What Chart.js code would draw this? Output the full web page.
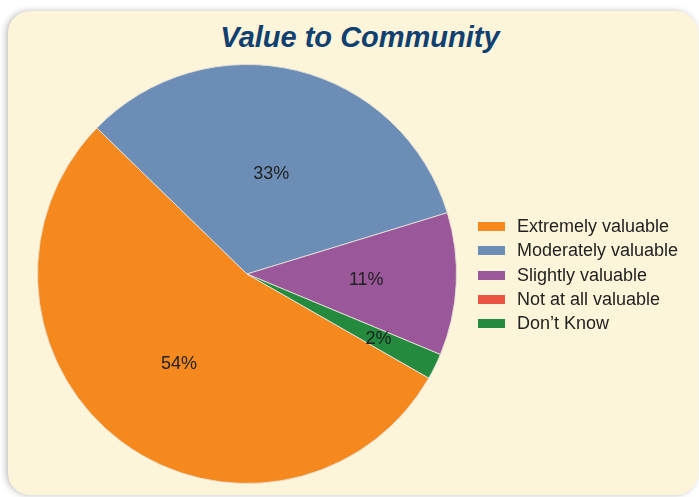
<!DOCTYPE html>
<html>
<head>
<meta charset="utf-8">
<script src="https://cdn.jsdelivr.net/npm/chart.js@4"></script>
<style>
    html, body { margin: 0; padding: 0; background: #ffffff; }
    #wrap { position: relative; width: 699px; height: 497px; overflow: hidden; }
    #card {
        position: absolute; left: 8px; top: 11px; width: 690px; height: 484px;
        background: #fdf5da; border-radius: 22px;
        box-shadow: -2px 0 6px rgba(0,0,0,0.25);
    }
    #title {
        position: absolute; left: 0; width: 720px; top: 21px; text-align: center;
        font: italic bold 29px "Liberation Sans", Arial, sans-serif; color: #0f406f;
    }
    #legend {
        position: absolute; left: 478px; top: 214px;
        font: 18px "Liberation Sans", Arial, sans-serif; color: #222;
    }
    #legend div { height: 24.3px; line-height: 24px; white-space: nowrap; }
    #legend span.box {
        display: inline-block; width: 27px; height: 9px; margin-right: 12px; vertical-align: 1px;
    }
    canvas { position: absolute; left: 0; top: 0; }
</style>
</head>
<body>
<div id="wrap">
    <div id="card"></div>
    <div id="title">Value to Community</div>
    <canvas id="pie" width="699" height="497"></canvas>
    <div id="legend"></div>
</div>
<script>
// Value to Community - survey responses (%)
const categories = ['Extremely valuable', 'Moderately valuable', 'Slightly valuable', 'Not at all valuable', 'Don\u2019t Know'];
const values = [54, 33, 11, 0, 2];
const colors = ['#f5891e', '#6c8db5', '#9a5799', '#ea5440', '#238a3e'];
// how far out each % label sits (fraction of radius)
const labelPos = [0.54, 0.49, 0.57, 0.6, 0.7];

// legend
const legend = document.getElementById('legend');
categories.forEach((c, i) => {
    const row = document.createElement('div');
    row.innerHTML = `<span class="box" style="background:${colors[i]}"></span>${c}`;
    legend.appendChild(row);
});

const pctLabels = {
    id: 'pctLabels',
    afterDatasetsDraw(chart) {
        const ctx = chart.ctx;
        const meta = chart.getDatasetMeta(0);
        ctx.save();
        ctx.font = '18px "Liberation Sans", Arial, sans-serif';
        ctx.fillStyle = '#222';
        ctx.textAlign = 'center';
        ctx.textBaseline = 'middle';
        meta.data.forEach((arc, i) => {
            if (!values[i]) return;
            const mid = (arc.startAngle + arc.endAngle) / 2;
            const r = arc.outerRadius * labelPos[i];
            ctx.fillText(values[i] + '%', arc.x + Math.cos(mid) * r, arc.y + Math.sin(mid) * r);
        });
        ctx.restore();
    }
};

new Chart(document.getElementById('pie'), {
    type: 'pie',
    data: {
        labels: categories,
        datasets: [{
            data: values,
            backgroundColor: colors,
            borderColor: 'rgba(230,225,215,0.9)',
            borderWidth: 1
        }]
    },
    options: {
        responsive: false,
        animation: false,
        rotation: 119.8,
        layout: { padding: { left: 37, top: 64, right: 242, bottom: 13 } },
        plugins: {
            legend: { display: false },
            tooltip: { enabled: false }
        }
    },
    plugins: [pctLabels]
});
</script>
</body>
</html>
